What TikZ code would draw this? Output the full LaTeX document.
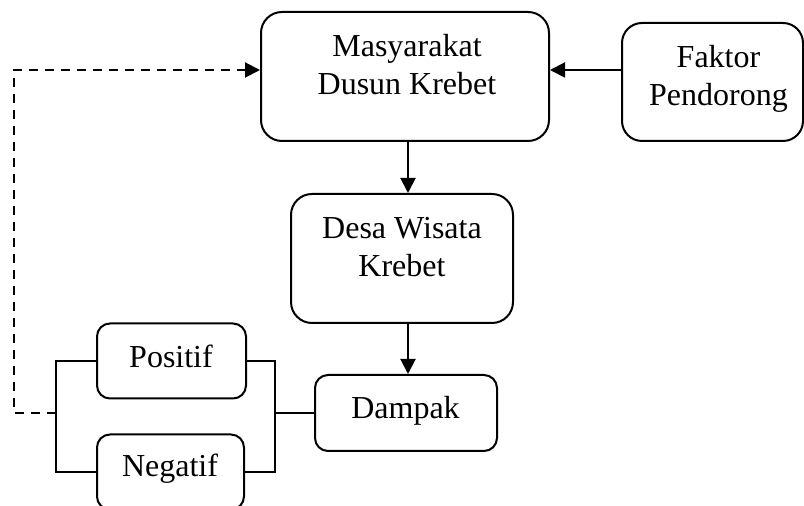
\documentclass[tikz,border=0pt]{standalone}
\usepackage{fontspec}
\setmainfont{Liberation Serif}
\usetikzlibrary{arrows.meta,positioning}
\tikzset{kotak/.style={draw,line width=1pt,rounded corners=#1,inner sep=0pt}}
\tikzset{teks/.style={font=\fontsize{16}{19}\selectfont,align=center,inner sep=0pt}}
\tikzset{panah/.style={-{Triangle[length=7.5pt,width=7.5pt]}}}
\tikzset{putus/.style={dash pattern=on 4.5pt off 3.5pt}}

\begin{document}
\begin{tikzpicture}[x=0.5pt,y=-0.5pt,line width=1pt]
\useasboundingbox (0,0) rectangle (804,506);
% kotak
\node[kotak=10.5pt,minimum width=144pt,minimum height=64.5pt] (masy) at (405,76.5) {};
\node[kotak=10pt,minimum width=90.5pt,minimum height=59pt] (faktor) at (712.5,82) {};
\node[kotak=10.5pt,minimum width=111pt,minimum height=64.5pt] (desa) at (402,258.5) {};
\node[kotak=6.5pt,minimum width=91pt,minimum height=38pt] (dampak) at (406,413) {};
\node[kotak=6.5pt,minimum width=74.5pt,minimum height=37.5pt] (positif) at (171.5,361) {};
\node[kotak=6.5pt,minimum width=73.5pt,minimum height=37.5pt] (negatif) at (170.5,472) {};
% teks
\node[teks] (masyT) at (407,65) {Masyarakat\\Dusun Krebet};
\node[teks] (faktorT) at (718.5,79) {Faktor\\Pendorong};
\node[teks] (desaT) at (402,247) {Desa Wisata\\Krebet};
\node[teks] (dampakT) at (405.5,410.5) {Dampak};
\node[teks] (positifT) at (171,356) {Positif};
\node[teks] (negatifT) at (170,468.5) {Negatif};
% garis
\coordinate (jalur) at (408,0);
\coordinate (atas) at (0,70);
\coordinate (kiri) at (56,413);
\coordinate (kanan) at (275,413);
\draw[panah] (faktor.west |- atas) -- (masy.east |- atas);
\draw[panah] (masy.south -| jalur) -- (desa.north -| jalur);
\draw[panah] (desa.south -| jalur) -- (dampak.north -| jalur);
\draw (positif.west) -| (kiri) |- (negatif.west);
\draw (positif.east) -| (kanan) |- (negatif.east);
\draw (dampak.west) -- (kanan);
\draw[putus,panah] (kiri) -- ++(-42,0) |- (masy.west |- atas);
\end{tikzpicture}
\end{document}
